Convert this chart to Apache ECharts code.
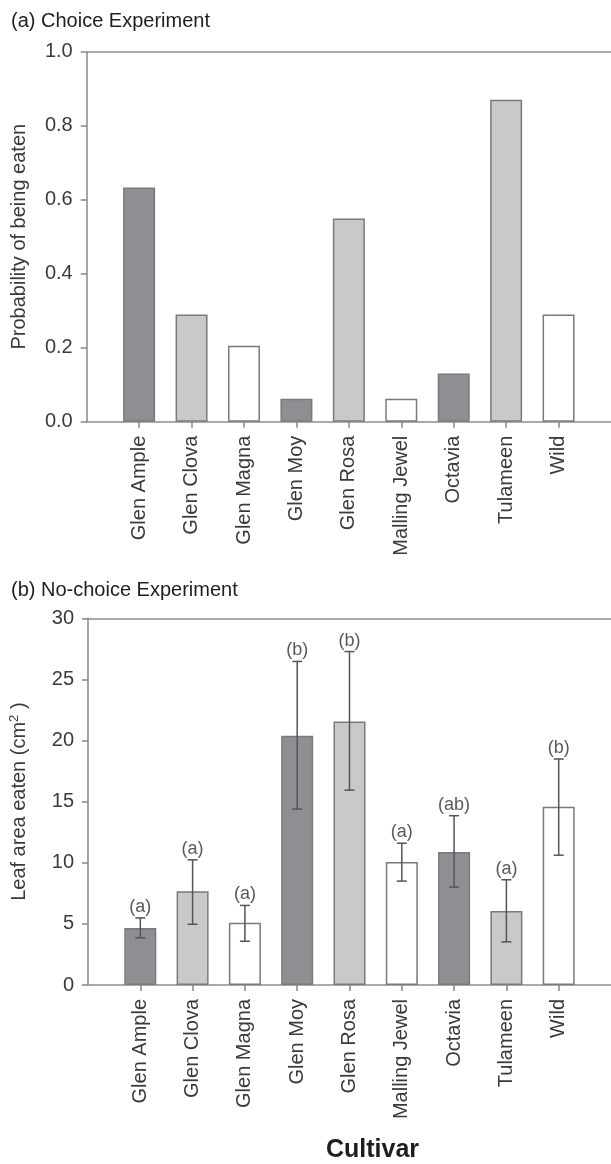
<!DOCTYPE html>
<html><head><meta charset="utf-8">
<script src="https://cdn.jsdelivr.net/npm/echarts@6/dist/echarts.min.js"></script>
<style>html,body{margin:0;padding:0;background:#fff}#c{width:611px;height:1164px}</style>
</head><body><div id="c"></div>
<script>
const cultivars = ['Glen Ample','Glen Clova','Glen Magna','Glen Moy','Glen Rosa','Malling Jewel','Octavia','Tulameen','Wild'];
const probEaten = [0.633, 0.29, 0.205, 0.062, 0.549, 0.062, 0.13, 0.87, 0.29];
const leafArea  = [4.67, 7.66, 5.1, 20.39, 21.56, 10.07, 10.89, 6.06, 14.58];
const leafLow   = [3.86, 4.97, 3.58, 14.39, 15.94, 8.5, 8.01, 3.53, 10.62];
const leafHigh  = [5.49, 10.24, 6.51, 26.47, 27.28, 11.6, 13.85, 8.61, 18.49];
const groupLetters = ['(a)','(a)','(a)','(b)','(b)','(a)','(ab)','(a)','(b)'];
const probTicks = [0, 0.2, 0.4, 0.6, 0.8, 1.0];
const leafTicks = [0, 5, 10, 15, 20, 25, 30];

const FONT = 'Liberation Sans, Arial, sans-serif';
const palette = ['#8e8f93', '#c9c9cb', '#ffffff'];
const axisCats = [''].concat(cultivars, ['']);
const pad = arr => [null].concat(arr, [null]);

const lineStyle = {color: '#8e8e8e', width: 1.6};
function bottomAxis(gridIndex, extra) {
  return Object.assign({
    type: 'category', gridIndex, data: axisCats, boundaryGap: false, position: 'bottom',
    axisLine: {show: true, lineStyle},
    axisTick: {show: true, length: 6, interval: (i, v) => v !== '', lineStyle},
    axisLabel: {interval: 0, rotate: 90, margin: 14, fontSize: 20, color: '#3a3a3a', fontFamily: FONT},
    splitLine: {show: false}
  }, extra || {});
}
function topAxis(gridIndex) {
  return {type: 'category', gridIndex, data: axisCats, boundaryGap: false, position: 'top',
    axisLine: {show: true, lineStyle}, axisTick: {show: false}, axisLabel: {show: false}, splitLine: {show: false}};
}
function yAxis(gridIndex, ticks, name, fmt, nameGap) {
  return {type: 'value', gridIndex, min: ticks[0], max: ticks[ticks.length - 1], interval: ticks[1] - ticks[0],
    axisLine: {show: true, lineStyle}, axisTick: {show: true, length: 6, lineStyle},
    axisLabel: {margin: 14, fontSize: 20, color: '#3a3a3a', fontFamily: FONT, formatter: fmt},
    splitLine: {show: false},
    name, nameLocation: 'middle', nameRotate: 90, nameGap,
    nameTextStyle: {fontSize: 20, color: '#3a3a3a', fontFamily: FONT,
      rich: {n: {fontSize: 20, color: '#3a3a3a', fontFamily: FONT}, s: {fontSize: 13, color: '#3a3a3a', fontFamily: FONT, verticalAlign: 'top', padding: [0, 0, 10, 0]}}}
  };
}
const barStyle = {
  color: p => palette[(p.dataIndex - 1) % 3],
  borderColor: '#7a7a7a', borderWidth: 1.5
};

const chart = echarts.init(document.getElementById('c'), null, {renderer: 'canvas'});
chart.setOption({
  backgroundColor: '#ffffff',
  animation: false,
  title: [
    {text: '(a) Choice Experiment', left: 11, top: 11, padding: 0,
      textStyle: {fontSize: 20, fontWeight: 'normal', color: '#1e1e1e', fontFamily: FONT}},
    {text: '(b) No-choice Experiment', left: 11, top: 580, padding: 0,
      textStyle: {fontSize: 20, fontWeight: 'normal', color: '#1e1e1e', fontFamily: FONT}}
  ],
  grid: [
    {left: 86.7, top: 51.7, width: 529, height: 370},
    {left: 86.7, top: 618.3, width: 529, height: 368.4}
  ],
  xAxis: [
    bottomAxis(0), topAxis(0),
    bottomAxis(1, {name: 'Cultivar', nameLocation: 'middle', nameGap: 153,
      nameTextStyle: {fontSize: 25, fontWeight: 'bold', color: '#1e1e1e', fontFamily: FONT, padding: [0, 0, 0, 46]}}),
    topAxis(1)
  ],
  yAxis: [
    yAxis(0, probTicks, 'Probability of being eaten', v => v.toFixed(1), 57),
    yAxis(1, leafTicks, '{n|Leaf area eaten (cm}{s|2}{n| )}', v => String(v), 57)
  ],
  series: [
    {type: 'bar', xAxisIndex: 0, yAxisIndex: 0, data: pad(probEaten), barWidth: 32, itemStyle: barStyle},
    {type: 'bar', xAxisIndex: 2, yAxisIndex: 1, data: pad(leafArea), barWidth: 32, itemStyle: barStyle},
    {type: 'custom', xAxisIndex: 2, yAxisIndex: 1, z: 5,
      data: cultivars.map((c, i) => [i + 1, leafLow[i], leafHigh[i]]),
      encode: {x: 0, y: [1, 2]},
      renderItem: (params, api) => {
        const x = api.value(0);
        const lo = api.coord([x, api.value(1)]);
        const hi = api.coord([x, api.value(2)]);
        const cap = 5;
        const st = {stroke: '#555555', lineWidth: 1.5};
        return {type: 'group', children: [
          {type: 'line', shape: {x1: lo[0], y1: lo[1], x2: hi[0], y2: hi[1]}, style: st},
          {type: 'line', shape: {x1: hi[0] - cap, y1: hi[1], x2: hi[0] + cap, y2: hi[1]}, style: st},
          {type: 'line', shape: {x1: lo[0] - cap, y1: lo[1], x2: lo[0] + cap, y2: lo[1]}, style: st},
          {type: 'text', style: {text: groupLetters[params.dataIndex], x: hi[0], y: hi[1] - 2,
            align: 'center', verticalAlign: 'bottom', fill: '#5a5a5a', fontSize: 18, fontFamily: FONT}}
        ]};
      }
    }
  ]
});
</script></body></html>
